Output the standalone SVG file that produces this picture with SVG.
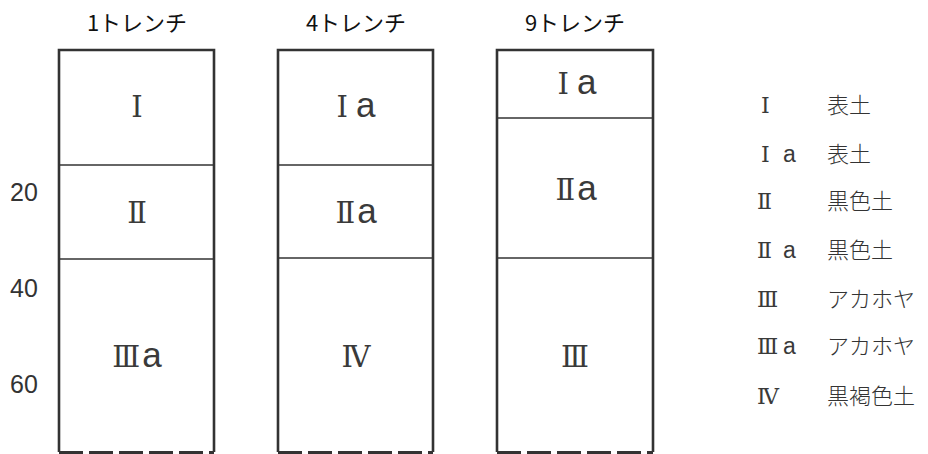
<svg xmlns="http://www.w3.org/2000/svg" width="928" height="454" viewBox="0 0 928 454">
<style>
.title{font-family:"Noto Sans CJK JP","Liberation Sans",sans-serif;font-size:22px;fill:#111}
.depth{font-family:"Liberation Sans",Arial,sans-serif;font-size:25px;fill:#333}
.lab{font-family:"DejaVu Serif",serif;font-size:29px;fill:#3a3a3a;text-anchor:middle}
.lab .a{font-family:"Liberation Sans",Arial,sans-serif;font-size:35px}
.leg{font-family:"Noto Sans CJK JP",sans-serif;font-size:22px;fill:#333;font-weight:300}
.rn{font-family:"DejaVu Serif",serif;font-size:22px;fill:#3a3a3a}
.rn .a{font-family:"Liberation Sans",Arial,sans-serif;font-size:23px}
.box{fill:none;stroke:#333;stroke-width:2.6}
.div{stroke:#333;stroke-width:1.4}
.bot{stroke:#333;stroke-width:3;stroke-dasharray:24 6}
</style>
<rect width="928" height="454" fill="#fff"/>
<g id="depth-scale">
<text class="depth" x="10" y="201">20</text>
<text class="depth" x="10" y="297">40</text>
<text class="depth" x="10" y="393">60</text>
</g>
<g id="trench1">
<text class="title" x="137" y="31" text-anchor="middle">1トレンチ</text>
<path class="box" d="M59,452 V50 H214 V452"/>
<line class="div" x1="59" y1="165" x2="214" y2="165"/>
<line class="div" x1="59" y1="259" x2="214" y2="259"/>
<line class="bot" x1="59" y1="452.5" x2="214" y2="452.5"/>
<text class="lab" x="137" y="117">Ⅰ</text>
<text class="lab" x="137" y="223">Ⅱ</text>
<text class="lab" x="137" y="367">Ⅲ<tspan class="a" dx="2">a</tspan></text>
</g>
<g id="trench4">
<text class="title" x="356" y="31" text-anchor="middle">4トレンチ</text>
<path class="box" d="M278,452 V50 H433 V452"/>
<line class="div" x1="278" y1="165" x2="433" y2="165"/>
<line class="div" x1="278" y1="258" x2="433" y2="258"/>
<line class="bot" x1="278" y1="452.5" x2="433" y2="452.5"/>
<text class="lab" x="356" y="117">Ⅰ<tspan class="a" dx="8">a</tspan></text>
<text class="lab" x="356" y="223">Ⅱ<tspan class="a" dx="2">a</tspan></text>
<text class="lab" x="356" y="367">Ⅳ</text>
</g>
<g id="trench9">
<text class="title" x="575" y="31" text-anchor="middle">9トレンチ</text>
<path class="box" d="M497,452 V50 H653 V452"/>
<line class="div" x1="497" y1="118" x2="653" y2="118"/>
<line class="div" x1="497" y1="258" x2="653" y2="258"/>
<line class="bot" x1="497" y1="452.5" x2="653" y2="452.5"/>
<text class="lab" x="577" y="94">Ⅰ<tspan class="a" dx="8">a</tspan></text>
<text class="lab" x="576" y="200">Ⅱ<tspan class="a" dx="2">a</tspan></text>
<text class="lab" x="575" y="367">Ⅲ</text>
</g>
<g id="legend">
<text class="rn" x="761" y="113">Ⅰ</text><text class="leg" x="827" y="113">表土</text>
<text class="rn" x="761" y="162">Ⅰ<tspan class="a" x="783">a</tspan></text><text class="leg" x="827" y="162">表土</text>
<text class="rn" x="757" y="209">Ⅱ</text><text class="leg" x="827" y="209">黒色土</text>
<text class="rn" x="757" y="258">Ⅱ<tspan class="a" x="783">a</tspan></text><text class="leg" x="827" y="258">黒色土</text>
<text class="rn" x="757" y="307">Ⅲ</text><text class="leg" x="827" y="307">アカホヤ</text>
<text class="rn" x="757" y="354">Ⅲ<tspan class="a" x="783">a</tspan></text><text class="leg" x="827" y="354">アカホヤ</text>
<text class="rn" x="757" y="404">Ⅳ</text><text class="leg" x="827" y="404">黒褐色土</text>
</g>
</svg>
